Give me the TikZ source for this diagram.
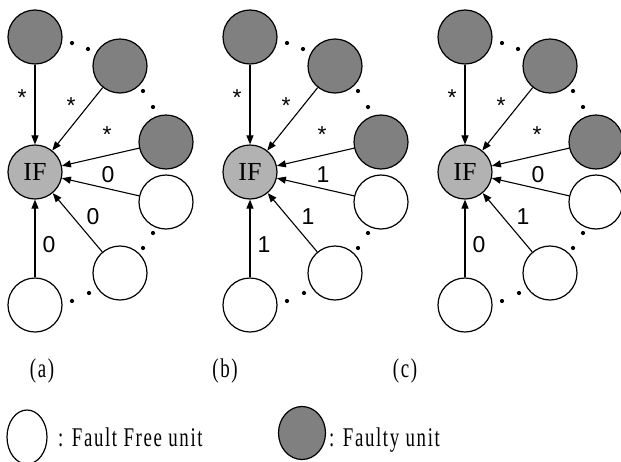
\documentclass[tikz,border=0pt]{standalone}
\usepackage{fontspec}
\usetikzlibrary{arrows.meta,shapes.geometric}
\newfontfamily\capfont[FakeStretch=0.7,LetterSpace=6]{Liberation Serif}
\newfontfamily\iffont{Liberation Serif}
\newfontfamily\labfont{Liberation Sans}
\definecolor{faultgray}{RGB}{128,128,128}
\definecolor{ifgray}{RGB}{178,178,178}
\tikzset{
  unit/.style={circle,draw=black,line width=1.2pt,minimum size=54pt,inner sep=0pt},
  faulty/.style={unit,fill=faultgray},
  free/.style={unit,fill=white},
  ifnode/.style={unit,fill=ifgray,font=\iffont\fontsize{26}{26}\selectfont},
  conn/.style={line width=1.1pt,-{Triangle[length=9pt,width=7pt]}},
  lab/.style={font=\labfont\fontsize{23}{23}\selectfont,anchor=base,inner sep=0pt},
  captext/.style={font=\capfont\fontsize{27}{27}\selectfont,inner sep=0pt},
  dotmark/.style={fill=black}
}
\newcommand{\unitpanel}[8]{%
  \begin{scope}[shift={(#2,0)}]
    \node[ifnode] (#1if) at (35,172) {IF};
    \node[faulty] (#1fa) at (35,37) {};
    \node[faulty] (#1fb) at (120,66) {};
    \node[faulty] (#1fc) at (166,142) {};
    \node[free] (#1ga) at (166,202) {};
    \node[free] (#1gb) at (120,273) {};
    \node[free] (#1gc) at (35,305) {};
    \draw[conn] (#1fa) -- (#1if);
    \draw[conn] (#1fb) -- (#1if);
    \draw[conn] (#1fc) -- (#1if);
    \draw[conn] (#1ga) -- (#1if);
    \draw[conn] (#1gb) -- (#1if);
    \draw[conn] (#1gc) -- (#1if);
    \foreach \p in {(72,43),(88,49),(143,91),(153,107),(153,233),(143,248),(89,293),(72,301)}
      \fill[dotmark] \p circle (2.1);
    \node[lab] (#1la) at (22,105) {#3};
    \node[lab] (#1lb) at (71,113) {#4};
    \node[lab] (#1lc) at (107,142) {#5};
    \node[lab] (#1ld) at (108,182) {#6};
    \node[lab] (#1le) at (93,224) {#7};
    \node[lab] (#1lf) at (49,252) {#8};
  \end{scope}}
\begin{document}
\begin{tikzpicture}[x=1pt,y=-1pt]
  \useasboundingbox (0,0) rectangle (621,461);
  \unitpanel{a}{0}{*}{*}{*}{0}{0}{0}
  \unitpanel{b}{215}{*}{*}{*}{1}{1}{1}
  \unitpanel{c}{430}{*}{*}{*}{0}{1}{0}
  \node[captext,anchor=base] (capa) at (42,377) {(a)};
  \node[captext,anchor=base] (capb) at (225,377) {(b)};
  \node[captext,anchor=base] (capc) at (405,377) {(c)};
  \node[draw=black,line width=1.2pt,fill=white,ellipse,minimum width=40pt,minimum height=54pt,inner sep=0pt] (legfree) at (27,437) {};
  \node[captext,anchor=base west] (txtfree) at (58,446) {: Fault Free unit};
  \node[draw=black,line width=1.2pt,fill=faultgray,ellipse,minimum width=47pt,minimum height=53pt,inner sep=0pt] (legfault) at (302,433) {};
  \node[captext,anchor=base west] (txtfault) at (329,446) {: Faulty unit};
\end{tikzpicture}
\end{document}
